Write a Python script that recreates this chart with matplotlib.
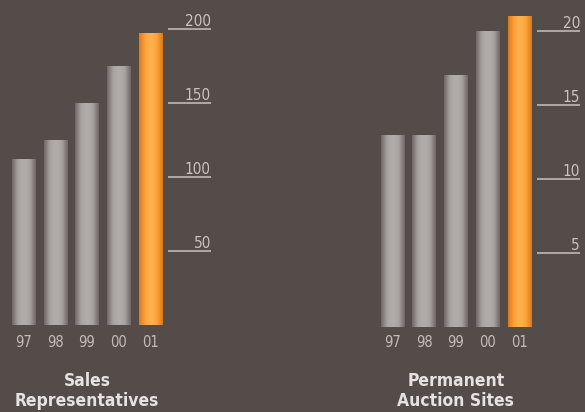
import numpy as np
import matplotlib
matplotlib.use("Agg")
import matplotlib.pyplot as plt
import matplotlib.transforms as mtransforms
from matplotlib.colors import LinearSegmentedColormap

plt.rcParams['font.family'] = ['DejaVu Sans']
plt.rcParams['font.stretch'] = 'condensed'

years = ['97', '98', '99', '00', '01']
sales_reps = [112, 125, 150, 175, 197]
auction_sites = [13, 13, 17, 20, 21]
sales_ticks = [50, 100, 150, 200]
site_ticks = [5, 10, 15, 20]

bg = '#544c49'
gray_cmap = LinearSegmentedColormap.from_list('g', ['#6f6866', '#a9a3a1', '#b3adab', '#a9a3a1', '#6f6866'])
orange_cmap = LinearSegmentedColormap.from_list('o', ['#e0781a', '#fba43c', '#ffb24e', '#fba43c', '#e0781a'])

fig = plt.figure(figsize=(5.85, 4.12), dpi=100, facecolor=bg)


def panel(rect, values, ticks, ytop, title):
    ax = fig.add_axes(rect)
    ax.set_facecolor(bg)
    ax.axis('off')
    x = np.arange(len(values))
    w = 0.73
    grad = np.linspace(0, 1, 64).reshape(1, -1)
    bars = ax.bar(x, values, width=w, color='none', edgecolor='none')
    for i, b in enumerate(bars):
        cmap = orange_cmap if i == len(values) - 1 else gray_cmap
        im = ax.imshow(grad, cmap=cmap, aspect='auto', interpolation='bicubic',
                       extent=(x[i] - w / 2, x[i] + w / 2, 0, values[i]), zorder=2)
        im.set_clip_path(b)
    ax.set_xlim(-0.75, 6.0)
    ax.set_ylim(0, ytop)

    # scale lines with labels on the right
    ax.hlines(ticks, 4.57, 5.92, color='#c9c4c0', lw=1.1)
    for t in ticks:
        ax.annotate(str(t), xy=(5.92, t), xytext=(0, 2), textcoords='offset points',
                    ha='right', va='baseline', fontsize=11, color='#c9c4c0')

    tr = mtransforms.blended_transform_factory(ax.transData, fig.transFigure)
    for xi, yr in zip(x, years):
        ax.text(xi, 0.158, yr, transform=tr, ha='center', va='baseline',
                fontsize=10.5, color='#c2bcb8')
    ax.text(2, 0.062, title[0], transform=tr, ha='center', va='baseline',
            fontsize=12.5, fontweight='bold', color='#e6e2df')
    ax.text(2, 0.014, title[1], transform=tr, ha='center', va='baseline',
            fontsize=12.5, fontweight='bold', color='#e6e2df')
    return ax


panel([0.0, 0.2112, 0.3648, 0.7888], sales_reps, sales_ticks, 219.4,
      ['Sales', 'Representatives'])
panel([0.630, 0.207, 0.3659, 0.793], auction_sites, site_ticks, 22.1,
      ['Permanent', 'Auction Sites'])

fig.savefig('out.png', dpi=100, facecolor=bg)
